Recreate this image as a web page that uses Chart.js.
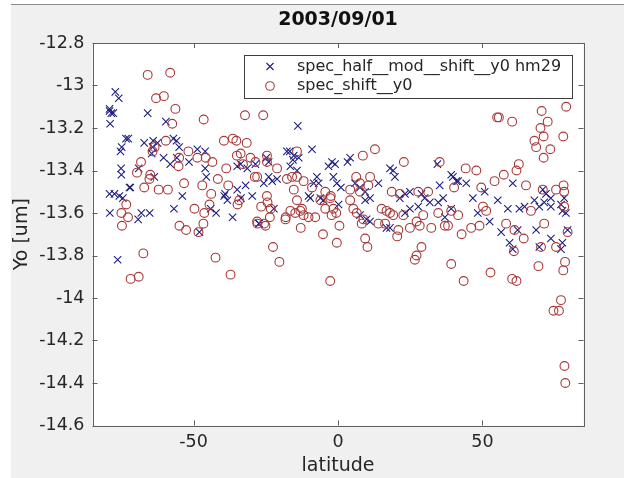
<!DOCTYPE html>
<html>
<head>
<meta charset="utf-8">
<script src="https://cdn.jsdelivr.net/npm/chart.js@4.4.0/dist/chart.umd.min.js"></script>
<style>
  html, body { margin: 0; padding: 0; background: #fff; }
  #frame { position: absolute; left: 11px; top: 4px; width: 613px; height: 473px; background: #f0f0f0; border-top: 1px solid #8c8c8c; }
  canvas { display: block; }
</style>
</head>
<body>
<div id="frame"><canvas id="chart" width="613" height="473"></canvas></div>
<script>
const chartTitle = "2003/09/01";
const seriesNames = ["spec_half__mod__shift__y0 hm29", "spec_shift__y0"];
const xTicks = [-50, 0, 50];
const yTicks = [-12.8, -13, -13.2, -13.4, -13.6, -13.8, -14, -14.2, -14.4, -14.6];

// blue crosses
const latBlue = [
  -77.1, -75.9, -79.1, -78.5, -77.8, -79.1, -78.9, -65.9, -59.6, -72.6, -73.4, -74.9, -75.3, -67.1, -64.0, -62.5,
  -64.2, -57.0, -55.9, -55.0, -64.5, -60.4, -58.1, -55.8, -48.7, -46.0, -51.6, -75.1, -75.0, -69.0, -63.6, -46.0,
  -45.6, -33.7, -34.9, -31.4, -72.2, -79.1, -77.4, -75.7, -74.5, -53.9, -39.1, -34.9, -32.0, -29.7, -71.9, -79.0,
  -68.1, -65.2, -69.2, -56.8, -48.0, -42.2, -36.5, -39.4, -33.6, -27.3, -76.3, -44.1, -38.3,
  -13.9, -9.0, -17.7, -16.7, -15.3, -15.6, -13.6, -24.8, -24.0, -28.6, -16.5, -14.2, -2.1, -3.3, -1.0, 4.2,
  3.3, 18.0, 19.1, 19.7, -24.0, -22.8, -25.7, -21.1, -7.3, -6.7, -8.4, -1.6, -0.4, 1.0, 5.9, 7.6,
  9.4, 14.0, -10.2, -6.1, 23.2, 24.9, -27.4, -22.2, -9.6, -5.0, 0.2, 7.6, 9.9, 11.1, 9.4, 11.1,
  16.8, 18.0, 23.2, 24.9, 27.8, 21.4,
  34.4, 39.2, 39.8, 41.0, 41.6, 35.2, 44.4, 60.5, 36.4, 46.7, 50.8, 55.3, 70.9, 72.0, 73.7, 78.3,
  28.9, 30.0, 58.8, 62.8, 64.6, 68.0, 69.7, 71.4, 73.7, 77.2, 77.7, 78.9, 56.5, 59.4, 60.5, 62.2,
  68.6, 73.7, 69.7, 77.2, 77.7, 79.5, 37.0, 34.7, 39.2, 48.4, 52.5, 31.8
];
const yoBlue = [
  -13.03, -13.06, -13.11, -13.13, -13.13, -13.12, -13.18, -13.13, -13.17, -13.25, -13.25, -13.29, -13.31, -13.27, -13.26, -13.27,
  -13.29, -13.25, -13.26, -13.29, -13.32, -13.34, -13.37, -13.34, -13.30, -13.31, -13.36, -13.39, -13.42, -13.39, -13.43, -13.39,
  -13.43, -13.37, -13.38, -13.39, -13.48, -13.51, -13.51, -13.52, -13.53, -13.52, -13.51, -13.49, -13.47, -13.52, -13.48, -13.60,
  -13.60, -13.60, -13.63, -13.58, -13.69, -13.60, -13.62, -13.52, -13.53, -13.65, -13.82, -13.58, -13.54,
  -13.19, -13.30, -13.31, -13.31, -13.33, -13.35, -13.34, -13.34, -13.36, -13.37, -13.38, -13.40, -13.36, -13.38, -13.37, -13.34,
  -13.36, -13.39, -13.40, -13.43, -13.43, -13.45, -13.46, -13.44, -13.43, -13.46, -13.46, -13.43, -13.46, -13.48, -13.46, -13.48,
  -13.50, -13.46, -13.52, -13.53, -13.51, -13.50, -13.65, -13.58, -13.53, -13.54, -13.56, -13.61, -13.63, -13.64, -13.54, -13.53,
  -13.67, -13.67, -13.60, -13.58, -13.57, -13.53,
  -13.37, -13.42, -13.43, -13.45, -13.45, -13.47, -13.46, -13.46, -13.53, -13.53, -13.50, -13.54, -13.49, -13.51, -13.53, -13.53,
  -13.51, -13.53, -13.58, -13.58, -13.57, -13.54, -13.57, -13.55, -13.57, -13.56, -13.59, -13.60, -13.69, -13.74, -13.77, -13.68,
  -13.68, -13.72, -13.76, -13.77, -13.74, -13.68, -13.62, -13.55, -13.58, -13.60, -13.64, -13.55
];

// red circles
const latRed = [
  -65.9, -58.1, -63.0, -60.3, -56.3, -57.4, -46.5, -32.2, -39.5, -36.4, -35.2, -31.6, -59.6, -63.5, -64.2, -51.8,
  -48.7, -45.8, -55.0, -55.2, -43.5, -68.2, -35.0, -33.7, -32.9, -30.3, -38.7, -69.6, -65.0, -65.3, -67.1, -62.1,
  -58.9, -53.3, -47.0, -41.6, -38.0, -43.9, -28.8, -75.0, -74.8, -73.3, -72.7, -54.9, -52.6, -49.7, -46.3, -46.6,
  -48.3, -44.5, -34.8, -34.2, -27.9, -25.6, -23.3, -24.4, -18.1, -12.9, -67.4, -71.8, -69.0, -42.4, -37.2,
  -25.9, 12.8, 22.8, 8.6, -14.2, -24.6, -21.1, -24.6, -28.0, -28.6, -17.7, -15.9, -14.2, -11.9, -9.0, -4.4,
  -2.5, 6.3, 7.6, 11.1, 10.5, 4.2, 7.6, 18.6, 21.4, 27.8, -24.6, -15.3, -26.6, -23.6, -25.1, -28.0,
  -18.2, -16.5, -14.8, -13.0, -11.9, -10.2, -7.9, -14.2, -12.5, -22.5, -20.3, -5.2, -2.7, -0.4, 0.5, -4.4,
  -1.6, -2.2, -0.6, -6.1, -2.7, 4.2, 5.3, 6.5, 8.8, 8.2, 9.4, 10.2, 14.0, 16.3, 15.1, 16.8,
  18.0, 19.1, 20.9, 20.5, 22.6, 24.9, 27.2, 28.3, 27.2, 26.6, 28.9,
  55.7, 55.1, 60.3, 70.5, 72.6, 70.1, 79.0, 71.2, 78.0, 68.0, 68.6, 73.5, 71.2, 35.2, 44.2, 47.9,
  54.2, 57.4, 61.8, 62.6, 65.1, 49.6, 40.2, 70.9, 75.5, 78.1, 78.3, 31.2, 39.2, 43.5, 52.8, 60.3,
  61.8, 69.4, 78.0, 78.6, 77.2, 74.6, 76.5, 42.8, 29.5, 32.3, 37.0, 38.1, 39.2, 41.6, 34.7, 46.1,
  49.0, 50.2, 51.3, 58.2, 61.1, 64.3, 60.9, 71.4, 66.8, 70.3, 75.5, 79.5, 78.3, 78.4, 78.7
];
const yoRed = [
  -12.95, -12.94, -13.06, -13.05, -13.11, -13.18, -13.16, -13.14, -13.26, -13.25, -13.26, -13.27, -13.26, -13.29, -13.31, -13.31,
  -13.34, -13.34, -13.34, -13.38, -13.36, -13.36, -13.33, -13.32, -13.37, -13.34, -13.39, -13.41, -13.42, -13.44, -13.48, -13.49,
  -13.49, -13.46, -13.47, -13.44, -13.47, -13.51, -13.43, -13.60, -13.66, -13.56, -13.62, -13.66, -13.68, -13.58, -13.60, -13.65,
  -13.69, -13.56, -13.56, -13.54, -13.65, -13.65, -13.58, -13.55, -13.62, -13.67, -13.79, -13.91, -13.90, -13.81, -13.89,
  -13.14, -13.30, -13.36, -13.33, -13.31, -13.36, -13.39, -13.33, -13.43, -13.36, -13.44, -13.43, -13.43, -13.45, -13.48, -13.50,
  -13.52, -13.43, -13.46, -13.43, -13.47, -13.49, -13.50, -13.50, -13.51, -13.50, -13.52, -13.49, -13.57, -13.62, -13.66, -13.64,
  -13.63, -13.59, -13.60, -13.59, -13.61, -13.62, -13.62, -13.54, -13.58, -13.76, -13.83, -13.70, -13.92, -13.74, -13.66, -13.58,
  -13.58, -13.61, -13.60, -13.54, -13.53, -13.54, -13.58, -13.60, -13.63, -13.65, -13.72, -13.76, -13.65, -13.65, -13.58, -13.59,
  -13.60, -13.61, -13.68, -13.71, -13.61, -13.67, -13.64, -13.66, -13.80, -13.82, -13.76,
  -13.15, -13.15, -13.17, -13.12, -13.17, -13.20, -13.10, -13.24, -13.24, -13.26, -13.29, -13.30, -13.34, -13.36, -13.39, -13.40,
  -13.45, -13.42, -13.40, -13.37, -13.47, -13.48, -13.48, -13.49, -13.49, -13.47, -13.50, -13.50, -13.84, -13.92, -13.88, -13.91,
  -13.92, -13.85, -13.87, -13.83, -14.01, -14.06, -14.06, -13.70, -13.61, -13.67, -13.66, -13.66, -13.59, -13.61, -13.60, -13.67,
  -13.66, -13.57, -13.59, -13.65, -13.68, -13.72, -13.78, -13.65, -13.59, -13.76, -13.76, -13.69, -13.57, -14.32, -14.40
];

const BLUE = "#1e1e82";
const RED = "#a83a3a";
const AXIS = "#5e5e5e";
const TEXT = "#262626";
const FONT = "DejaVu Sans";

const toPoints = (xs, ys) => xs.map((x, i) => ({ x, y: ys[i] }));

function drawCross(ctx, x, y, h) {
  ctx.beginPath();
  ctx.moveTo(x - h, y - h); ctx.lineTo(x + h, y + h);
  ctx.moveTo(x + h, y - h); ctx.lineTo(x - h, y + h);
  ctx.stroke();
}

// MATLAB style: white axes, closed box, ticks pointing inward, boxed legend
const matlabAxes = {
  id: "matlabAxes",
  beforeDraw(chart) {
    const { ctx, chartArea: a } = chart;
    ctx.save();
    ctx.fillStyle = "#ffffff";
    ctx.fillRect(a.left, a.top, a.right - a.left, a.bottom - a.top);
    ctx.restore();
  },
  afterDraw(chart) {
    const { ctx, chartArea: a, scales } = chart;
    ctx.save();
    ctx.strokeStyle = AXIS;
    ctx.lineWidth = 1;
    ctx.strokeRect(Math.round(a.left) + 0.5, Math.round(a.top) + 0.5,
      Math.round(a.right - a.left), Math.round(a.bottom - a.top));
    const tl = 5;
    ctx.beginPath();
    xTicks.forEach((v) => {
      const px = Math.round(scales.x.getPixelForValue(v)) + 0.5;
      ctx.moveTo(px, a.bottom); ctx.lineTo(px, a.bottom - tl);
      ctx.moveTo(px, a.top); ctx.lineTo(px, a.top + tl);
    });
    yTicks.forEach((v) => {
      const py = Math.round(scales.y.getPixelForValue(v)) + 0.5;
      ctx.moveTo(a.left, py); ctx.lineTo(a.left + tl, py);
      ctx.moveTo(a.right, py); ctx.lineTo(a.right - tl, py);
    });
    ctx.stroke();

    // legend box
    const lx = 233.5, ly = 50.5, lw = 328, lh = 43;
    ctx.fillStyle = "#ffffff";
    ctx.fillRect(lx, ly, lw, lh);
    ctx.strokeStyle = "#3c3c3c";
    ctx.strokeRect(lx, ly, lw, lh);
    const rows = [61.5, 81];
    ctx.lineWidth = 1.1;
    ctx.strokeStyle = BLUE;
    drawCross(ctx, 259, rows[0], 3.5);
    ctx.strokeStyle = RED;
    ctx.beginPath();
    ctx.arc(259, rows[1], 4.3, 0, Math.PI * 2);
    ctx.stroke();
    ctx.fillStyle = TEXT;
    ctx.font = "16px '" + FONT + "'";
    ctx.textBaseline = "middle";
    ctx.textAlign = "left";
    seriesNames.forEach((name, i) => ctx.fillText(name, 286, rows[i]));
    ctx.restore();
  }
};

new Chart(document.getElementById("chart"), {
  type: "scatter",
  data: {
    datasets: [
      {
        label: seriesNames[0],
        data: toPoints(latBlue, yoBlue),
        pointStyle: "crossRot",
        pointRadius: 5.2,
        borderColor: BLUE,
        backgroundColor: BLUE,
        borderWidth: 1.1,
        order: 2
      },
      {
        label: seriesNames[1],
        data: toPoints(latRed, yoRed),
        pointStyle: "circle",
        pointRadius: 4.4,
        borderColor: RED,
        backgroundColor: "rgba(0,0,0,0)",
        borderWidth: 1.1,
        order: 1
      }
    ]
  },
  options: {
    responsive: false,
    animation: false,
    events: [],
    layout: { padding: { left: 0, right: 40.5, top: 0, bottom: 0 } },
    plugins: {
      legend: { display: false },
      tooltip: { enabled: false },
      title: {
        display: true,
        text: chartTitle,
        fullSize: false,
        color: "#111",
        font: { family: FONT, size: 19, weight: "bold" },
        padding: { top: 4, bottom: 11.2 }
      }
    },
    scales: {
      x: {
        type: "linear",
        min: -85,
        max: 85,
        afterBuildTicks: (s) => { s.ticks = xTicks.map((v) => ({ value: v })); },
        afterFit: (s) => { s.height = 52.5; },
        grid: { display: false, drawTicks: false },
        border: { display: false },
        ticks: { color: TEXT, font: { family: FONT, size: 17.5 }, padding: 6, maxRotation: 0 },
        title: { display: true, text: "latitude", color: TEXT, font: { family: FONT, size: 19 }, padding: { top: 0, bottom: 1 } }
      },
      y: {
        type: "linear",
        min: -14.6,
        max: -12.8,
        afterBuildTicks: (s) => { s.ticks = yTicks.map((v) => ({ value: v })); },
        afterFit: (s) => { s.width = 81.5; },
        grid: { display: false, drawTicks: false },
        border: { display: false },
        ticks: { color: TEXT, font: { family: FONT, size: 17.5 }, padding: 8, callback: (v) => String(Math.round(v * 10) / 10) },
        title: { display: true, text: "Yo [um]", color: TEXT, font: { family: FONT, size: 19 }, padding: { top: 0, bottom: 0 } }
      }
    }
  },
  plugins: [matlabAxes]
});
</script>
</body>
</html>
